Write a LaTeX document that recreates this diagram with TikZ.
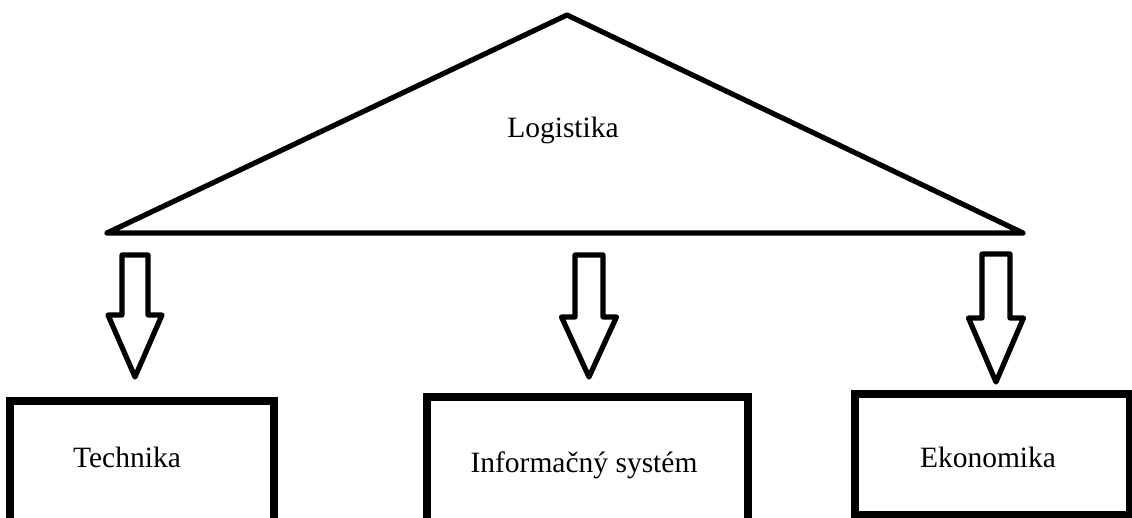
\documentclass[tikz,border=0pt]{standalone}
\usepackage{fontspec}
\setmainfont{Liberation Serif}
\begin{document}
\begin{tikzpicture}[x=0.5pt,y=-0.5pt,
  thickline/.style={line width=2.6pt,line join=round,line cap=round},
  boxline/.style={draw,line width=4pt,inner sep=0pt,outer sep=0pt,rectangle},
  label/.style={font=\fontsize{14.75pt}{17pt}\selectfont,anchor=base,inner sep=0pt}]
\useasboundingbox (0,0) rectangle (1132,518);
\clip (0,0) rectangle (1132,518);
\fill[white] (0,0) rectangle (1132,518);

% triangle
\coordinate (apex) at (567,15);
\coordinate (baseL) at (107,233);
\coordinate (baseR) at (1023,233);
\draw[thickline] (apex) -- (baseL) -- (baseR) -- cycle;
\node[label] (logistika) at (563,138) {Logistika};

% boxes
\node[boxline,minimum width=132pt,minimum height=69.5pt] (boxT) at (142,470.5) {};
\node[boxline,minimum width=160.5pt,minimum height=71.5pt] (boxI) at (587.5,468.5) {};
\node[boxline,minimum width=137.5pt,minimum height=60.5pt] (boxE) at (992.5,454.5) {};
\node[label] (technika) at (127,468) {Technika};
\node[label] (infosys) at (584,473) {Informačný systém};
\node[label] (ekonomika) at (988,468) {Ekonomika};

% block arrows
\coordinate (a1) at (135,255);
\coordinate (a2) at (589,255);
\coordinate (a3) at (996,254);
\draw[thickline] (a1) ++(-13,0) -- ++(0,60) -- ++(-14,0) -- ++(27,62) -- ++(27,-62) -- ++(-14,0) -- ++(0,-60) -- cycle;
\draw[thickline] (a2) ++(-14,0) -- ++(0,62) -- ++(-13.5,0) -- ++(27.5,60) -- ++(27.5,-60) -- ++(-13.5,0) -- ++(0,-62) -- cycle;
\draw[thickline] (a3) ++(-14,0) -- ++(0,64) -- ++(-13.5,0) -- ++(27.5,64) -- ++(27.5,-64) -- ++(-13.5,0) -- ++(0,-64) -- cycle;
\end{tikzpicture}
\end{document}
